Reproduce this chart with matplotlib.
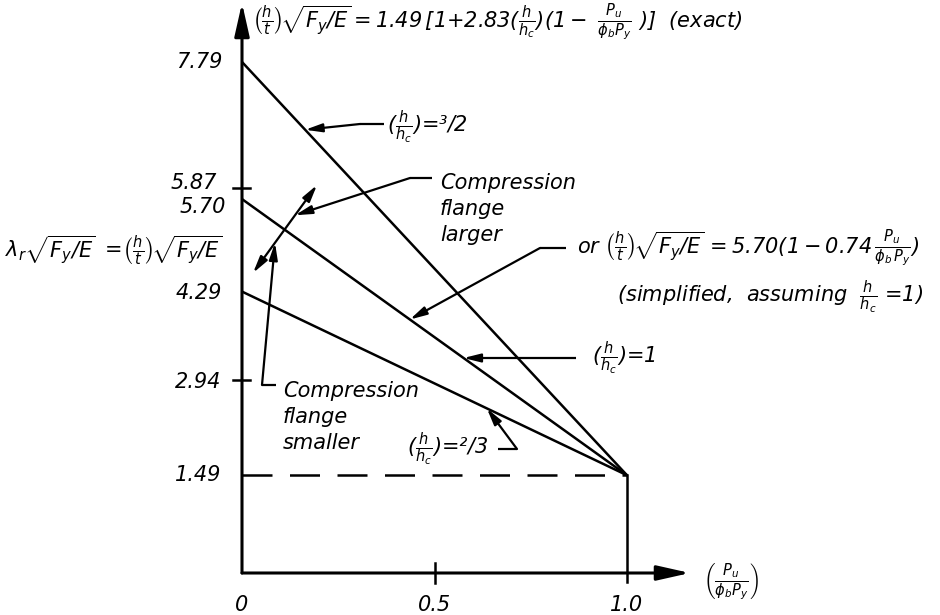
import numpy as np
import matplotlib
matplotlib.use("Agg")
import matplotlib.pyplot as plt

plt.rcParams['font.family'] = ['DejaVu Sans']
plt.rcParams['font.style'] = 'italic'
plt.rcParams['mathtext.fontset'] = 'custom'
plt.rcParams['mathtext.rm'] = 'DejaVu Sans:italic'
plt.rcParams['mathtext.it'] = 'DejaVu Sans:italic'
plt.rcParams['mathtext.sf'] = 'DejaVu Sans:italic'

# data (lambda_r * sqrt(Fy/E) vs Pu/(phi_b Py))
ratio_labels = ["=³/2", "=1", "=²/3"]       # h/hc for each line
y_at_zero = [7.79, 5.70, 4.29]               # intercepts at Pu/phiPy = 0
x_end = 1.0
y_end = 1.49
ytick_vals = [7.79, 5.87, 5.70, 4.29, 2.94, 1.49]
ytick_text = ["7.79", "5.87", "5.70", "4.29", "2.94", "1.49"]
ytick_marks = [5.87, 2.94]
xtick_vals = [0.0, 0.5, 1.0]
xtick_text = ["0", "0.5", "1.0"]

# layout: pixel -> data mapping (origin at 242,573 px; 385 px per unit x, 65.6 px per unit y)
X0, XS, Y0, YS = 242, 385.0, 573, 65.6
W, H = 940, 615


def px(xp, yp):
    return (xp - X0) / XS, (Y0 - yp) / YS


def on_line(i, x):
    return x, y_at_zero[i] + (y_end - y_at_zero[i]) * x / x_end


fig = plt.figure(figsize=(W / 100, H / 100), dpi=100)
ax = fig.add_axes([0, 0, 1, 1])
ax.set_xlim(-X0 / XS, (W - X0) / XS)
ax.set_ylim(-(H - Y0) / YS, Y0 / YS)
ax.axis('off')

k = 'black'
FS = 15
head = '-|>,head_length=1.0,head_width=0.25'
hc = r"$(\frac{h}{h_c})$"

# axes with arrows
for tip in (px(690, Y0), px(X0, 3)):
    ax.annotate('', xy=tip, xytext=(0, 0),
                arrowprops=dict(arrowstyle='-|>,head_length=2.0,head_width=0.45', lw=2.2,
                                color=k, shrinkA=0, shrinkB=0, mutation_scale=10))

# the three straight lines
for y0 in y_at_zero:
    ax.plot([0, x_end], [y0, y_end], color=k, lw=1.8, solid_capstyle='butt')

# dashed limit and vertical at 1.0
ax.plot([0, x_end], [y_end, y_end], color=k, lw=1.8, dashes=(12, 7))
ax.plot([x_end, x_end], [y_end, px(0, 582)[1]], color=k, lw=1.8)

# ticks
for v in ytick_marks:
    ax.plot([px(233, 0)[0], px(250, 0)[0]], [v, v], color=k, lw=1.8)
ax.plot([0.5, 0.5], [px(0, 563)[1], px(0, 583)[1]], color=k, lw=1.8)

# tick labels
yoff = {7.79: 0, 5.87: -5, 5.70: 8, 4.29: 1, 2.94: 2, 1.49: 0}
xr = {7.79: 222, 5.87: 217, 5.70: 226, 4.29: 222, 2.94: 221, 1.49: 221}
for v, t in zip(ytick_vals, ytick_text):
    ax.text(px(xr[v], 0)[0], v - yoff[v] / YS, t, ha='right', va='center', fontsize=FS)
for v, t in zip(xtick_vals, xtick_text):
    ax.text(v, px(0, 605)[1], t, ha='center', va='center', fontsize=FS)

# axis titles
ax.text(*px(222, 250), r"$\lambda_r\sqrt{F_y/E}\ =\!\left(\frac{h}{t}\right)\!\sqrt{F_y/E}$",
        ha='right', va='center', fontsize=FS)
ax.text(*px(703, 582), r"$\left(\frac{P_u}{\phi_b P_y}\right)$", ha='left', va='center', fontsize=FS)
ax.text(*px(252, 22),
        r"$\left(\frac{h}{t}\right)\!\sqrt{F_y/E}=1.49\,[1$+$2.83(\frac{h}{h_c})(1-\ \frac{P_u}{\phi_b P_y}\ )]$  (exact)",
        ha='left', va='center', fontsize=FS)


def leader(pts, tip, lw=1.6):
    ax.plot([p[0] for p in pts], [p[1] for p in pts], color=k, lw=lw, solid_capstyle='butt')
    ax.annotate('', xy=tip, xytext=pts[-1],
                arrowprops=dict(arrowstyle=head, lw=lw, color=k, shrinkA=0, shrinkB=0,
                                mutation_scale=10))


# h/hc = 3/2
ax.text(*px(387, 127), hc + ratio_labels[0], ha='left', va='center', fontsize=FS)
leader([px(384, 124), px(360, 124)], on_line(0, 0.164))

# double arrow (compression flange direction)
da = [(253, 273), (317, 185)]
ax.annotate('', xy=px(*da[1]), xytext=px(*da[0]),
            arrowprops=dict(arrowstyle='<|-|>,head_length=1.0,head_width=0.25', lw=1.6,
                            color=k, shrinkA=0, shrinkB=0, mutation_scale=10))


def on_da(xp):
    t = (xp - da[0][0]) / (da[1][0] - da[0][0])
    return px(xp, da[0][1] + t * (da[1][1] - da[0][1]))


ax.text(*px(440, 209), "Compression\nflange\nlarger", ha='left', va='center',
        fontsize=FS, linespacing=1.35)
leader([px(432, 178), px(410, 178)], on_da(295))

ax.text(*px(283, 417), "Compression\nflange\nsmaller", ha='left', va='center',
        fontsize=FS, linespacing=1.35)
leader([px(276, 385), px(262, 385)], on_da(275))

# simplified formula
ax.text(*px(577, 248),
        r"or $\left(\frac{h}{t}\right)\!\sqrt{F_y/E}\,=5.70(1-0.74\,\frac{P_u}{\phi_b\,P_y})$",
        ha='left', va='center', fontsize=FS)
ax.text(*px(617, 297), r"(simplified,  assuming  $\frac{h}{h_c}$ =1)", ha='left', va='center',
        fontsize=FS)
leader([px(566, 248), px(540, 248)], on_line(1, 0.436))

# h/hc = 1
ax.text(*px(592, 358), hc + ratio_labels[1], ha='left', va='center', fontsize=FS)
y1 = px(0, 358)[1]
leader([px(576, 358), px(575, 358)], on_line(1, (y_at_zero[1] - y1) / (y_at_zero[1] - y_end)))

# h/hc = 2/3
ax.text(*px(407, 449), hc + ratio_labels[2], ha='left', va='center', fontsize=FS)
leader([px(498, 449), px(517, 449)], on_line(2, 0.636))

fig.savefig("out.png", dpi=100)
